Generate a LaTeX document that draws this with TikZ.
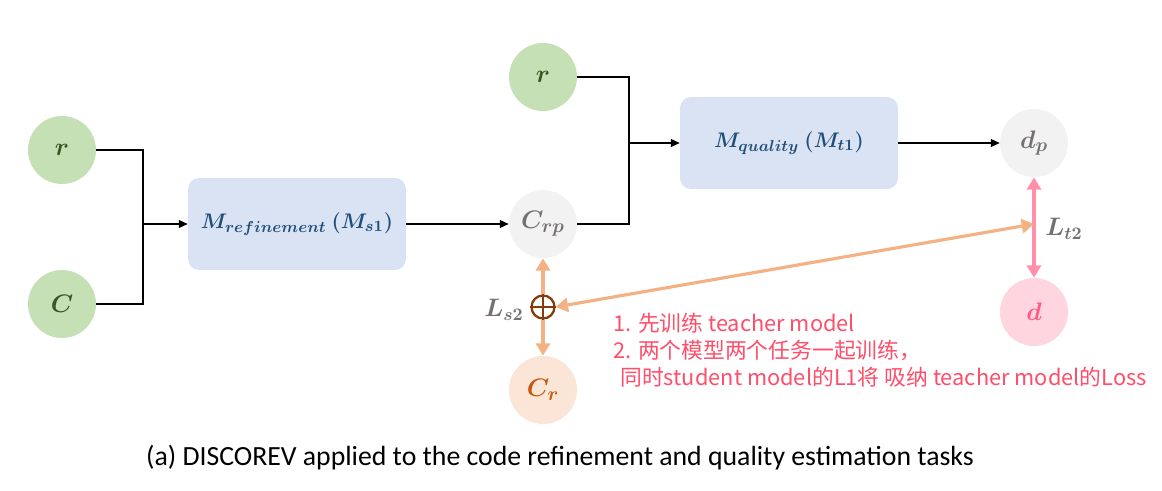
\documentclass[tikz,border=0pt]{standalone}
\usepackage{amsmath,bm}
\usepackage{fontspec}
\setmainfont{Carlito}
\newfontfamily\cjk{Noto Sans CJK SC}
\usetikzlibrary{arrows.meta}

\definecolor{leafgreen}{HTML}{C5E0B4}
\definecolor{leaftext}{HTML}{385723}
\definecolor{boxblue}{HTML}{DAE3F3}
\definecolor{boxtext}{HTML}{1F4E79}
\definecolor{greyfill}{HTML}{F2F2F2}
\definecolor{greytext}{HTML}{767171}
\definecolor{peachfill}{HTML}{FBE5D6}
\definecolor{peachtext}{HTML}{C55A11}
\definecolor{pinkfill}{HTML}{FFD5DF}
\definecolor{pinktext}{HTML}{FF5A82}
\definecolor{pinkline}{HTML}{FF8FAB}
\definecolor{orangeline}{HTML}{F4B183}
\definecolor{plusbrown}{HTML}{843C0C}
\definecolor{notered}{HTML}{FF4D6A}

\tikzset{
  ball/.style={circle, minimum size=1.36cm, inner sep=0pt,
    font=\fontsize{15}{17}\selectfont},
  model/.style={rounded corners=0.22cm, fill=boxblue, text=boxtext,
    minimum width=4.36cm, minimum height=1.84cm,
    font=\fontsize{12.5}{15}\selectfont},
  link/.style={line width=0.7pt},
  feed/.style={link, -{Triangle[length=5pt,width=4.5pt]}},
  losspeach/.style={line width=1.8pt, orangeline,
    {Triangle[length=7pt,width=8pt]}-{Triangle[length=7pt,width=8pt]}},
  losspink/.style={line width=1.8pt, pinkline,
    {Triangle[length=7pt,width=8pt]}-{Triangle[length=7pt,width=8pt]}},
}

\begin{document}
\begin{tikzpicture}[x=0.02cm, y=-0.02cm]
  \useasboundingbox (0,0) rectangle (1162,490);

  % student side
  \node[ball, fill=leafgreen, text=leaftext] (r1) at (62,150) {$\bm{r}$};
  \node[ball, fill=leafgreen, text=leaftext] (c) at (62,304) {$\bm{C}$};
  \coordinate (j1) at (143,224);
  \node[model] (mref) at (297,224) {$\bm{M_{refinement}\ (M_{s1})}$};
  \node[ball, fill=greyfill, text=greytext] (crp) at (543,224) {$\bm{C_{rp}}$};
  \node[ball, fill=peachfill, text=peachtext] (cr) at (543,390) {$\bm{C_r}$};

  \draw[link] (r1.east) -| (j1) |- (c.east);
  \draw[feed] (j1) -- (mref.west);
  \draw[feed] (mref.east) -- (crp.west);

  % teacher side
  \node[ball, fill=leafgreen, text=leaftext] (r2) at (543,77) {$\bm{r}$};
  \coordinate (j2) at (629,143);
  \node[model] (mqual) at (789,143) {$\bm{M_{quality}\ (M_{t1})}$};
  \node[ball, fill=greyfill, text=greytext] (dp) at (1034,143) {$\bm{d_p}$};
  \node[ball, fill=pinkfill, text=pinktext] (d) at (1034,312) {$\bm{d}$};

  \draw[link] (r2.east) -| (j2) |- (crp.east);
  \draw[feed] (j2) -- (mqual.west);
  \draw[feed] (mqual.east) -- (dp.west);

  % losses
  \node[circle, draw=plusbrown, line width=1.3pt, minimum size=0.46cm,
    inner sep=0pt] (plus) at (543,307) {};
  \draw[plusbrown, line width=1.3pt] (plus.north) -- (plus.south)
    (plus.west) -- (plus.east);
  \draw[orangeline, line width=1.8pt, -{Triangle[length=7pt,width=8pt]}]
    (plus.north) -- (crp.south);
  \draw[orangeline, line width=1.8pt, -{Triangle[length=7pt,width=8pt]}]
    (plus.south) -- (cr.north);
  \draw[losspink] (dp.south) -- (d.north);
  \coordinate (tl) at (1034,224);
  \draw[losspeach] (plus.east) -- (tl);

  \node[text=greytext, font=\fontsize{14}{16}\selectfont] (ls) at (504,310) {$\bm{L_{s2}}$};
  \node[text=greytext, font=\fontsize{14}{16}\selectfont] (lt) at (1064,229) {$\bm{L_{t2}}$};

  % note
  \node[anchor=north west, align=left, text=notered, inner sep=0pt,
    font=\cjk\fontsize{12.4}{15.4}\selectfont] (note) at (613,313)
    {1. 先训练 teacher model\\2. 两个模型两个任务一起训练，\\\hspace{4pt}同时student model的L1将 吸纳 teacher model的Loss};

  % caption
  \node[font=\fontsize{15.8}{19}\selectfont] (cap) at (560,458)
    {(a) DISCOREV applied to the code refinement and quality estimation tasks};
\end{tikzpicture}
\end{document}
